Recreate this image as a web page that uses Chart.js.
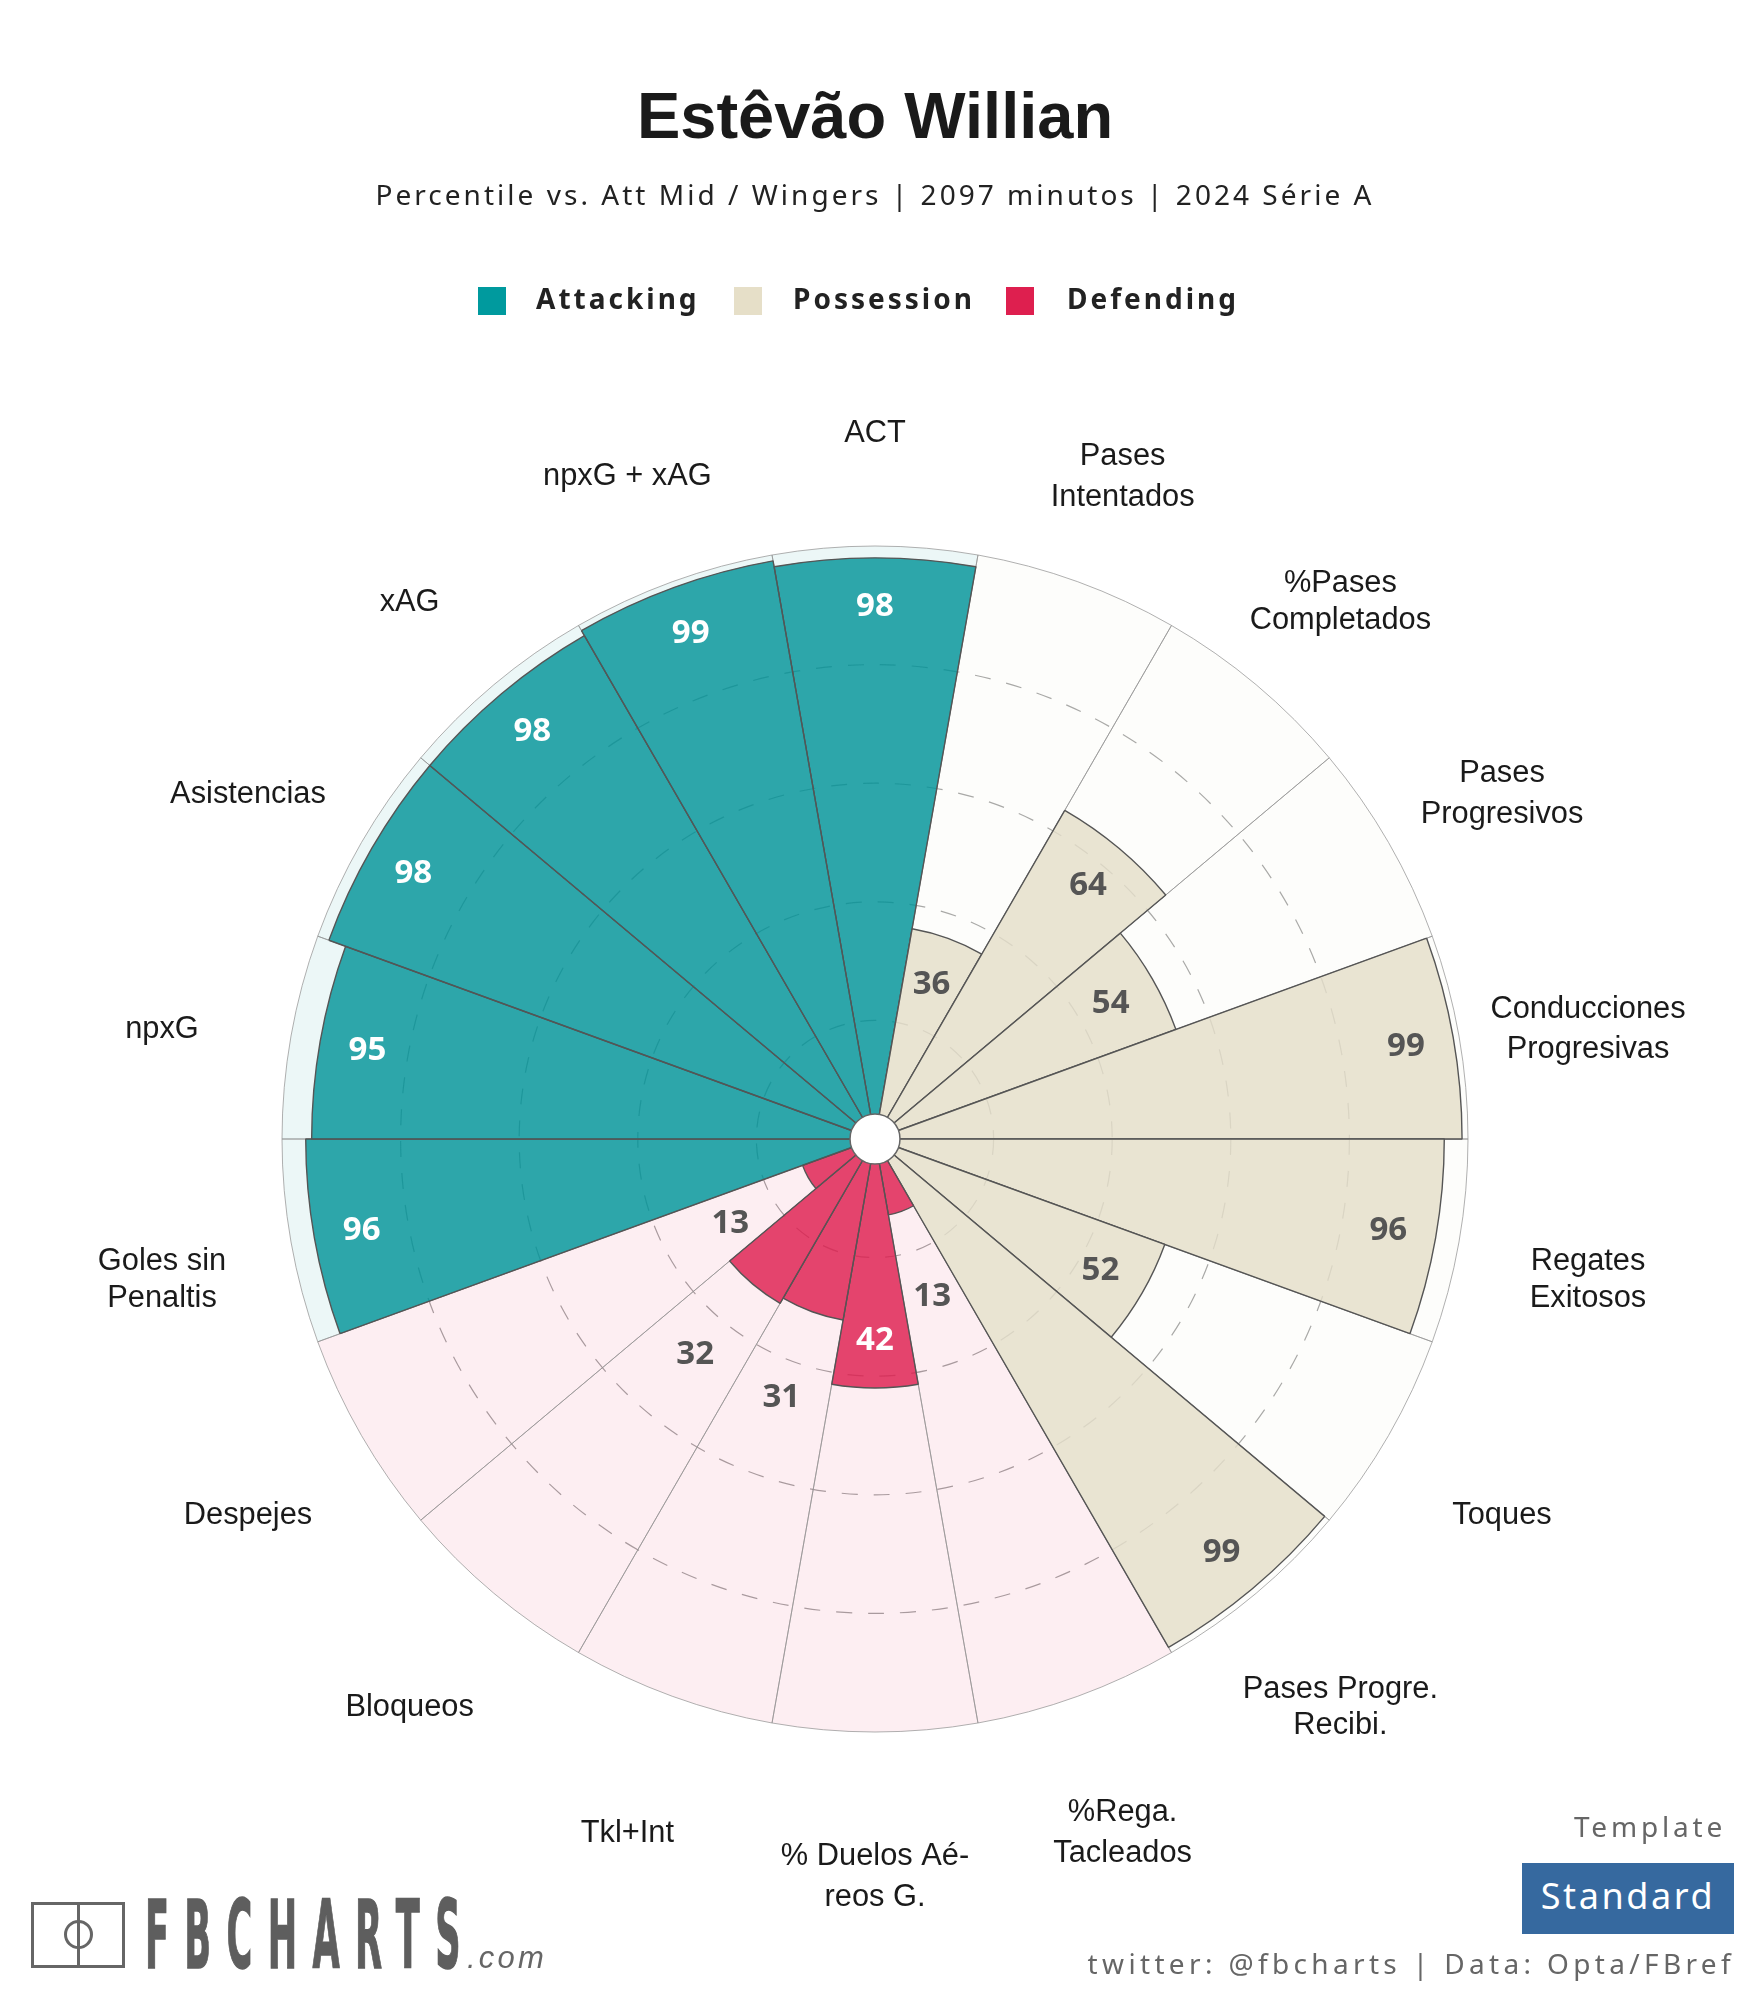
<!DOCTYPE html>
<html lang="es">
<head>
<meta charset="utf-8">
<title>Estêvão Willian</title>
<script src="https://cdn.jsdelivr.net/npm/chart.js@4"></script>
<style>
    html, body { margin: 0; padding: 0; background: #fff; }
    #pagina { position: relative; width: 1750px; height: 2000px; overflow: hidden; }
    #grafico { position: absolute; left: 0; top: 0; }
    .txt { position: absolute; white-space: nowrap; line-height: 1; font-family: "Noto Sans", sans-serif; }
    .quadro { position: absolute; }
</style>
</head>
<body>
<div id="pagina">
    <canvas id="grafico" width="1750" height="2000"></canvas>

    <div class="txt" style="left:0;width:1750px;top:83px;text-align:center;font:bold 65px/1 'Liberation Sans';color:#1a1a1a">Estêvão Willian</div>
    <div class="txt" style="left:0;width:1750px;top:180px;text-align:center;font-size:28px;letter-spacing:3.03px;color:#222">Percentile vs. Att Mid / Wingers | 2097 minutos | 2024 Série A</div>

    <div class="quadro" style="left:478px;top:287px;width:28px;height:28px;background:#009a9e"></div>
    <div class="txt" style="left:536px;top:284px;font-size:28px;font-weight:bold;letter-spacing:3px;color:#222">Attacking</div>
    <div class="quadro" style="left:734px;top:287px;width:28px;height:28px;background:#e6dfc8"></div>
    <div class="txt" style="left:793px;top:284px;font-size:28px;font-weight:bold;letter-spacing:3px;color:#222">Possession</div>
    <div class="quadro" style="left:1006px;top:287px;width:28px;height:28px;background:#de1f4f"></div>
    <div class="txt" style="left:1067px;top:284px;font-size:28px;font-weight:bold;letter-spacing:3px;color:#222">Defending</div>

    <div class="quadro" style="left:31px;top:1902px;width:88px;height:60px;border:3px solid #666"></div>
    <div class="quadro" style="left:77px;top:1902px;width:3px;height:66px;background:#666"></div>
    <div class="quadro" style="left:64px;top:1920px;width:23px;height:23px;border:3px solid #666;border-radius:50%"></div>
    <div class="txt" style="left:145px;top:1888px;font:bold 95px/1 'DejaVu Sans';letter-spacing:41.5px;color:#5e5e5e;-webkit-text-stroke:1.5px #5e5e5e;transform:scaleX(.37);transform-origin:left top">FBCHARTS</div>
    <div class="txt" style="left:467px;top:1942px;font:italic 31px/1 'Liberation Sans';letter-spacing:3.2px;color:#666">.com</div>

    <div class="txt" style="right:24px;top:1812px;font-size:28px;letter-spacing:3.8px;color:#666">Template</div>
    <div class="quadro" style="left:1522px;top:1863px;width:212px;height:71px;background:#36699f"></div>
    <div class="txt" style="left:1522px;width:212px;top:1878px;text-align:center;font-size:36px;letter-spacing:2.6px;color:#fff">Standard</div>
    <div class="txt" style="right:15px;top:1949px;font-size:28px;letter-spacing:4.35px;color:#666">twitter: @fbcharts | Data: Opta/FBref</div>
</div>

<script>
// Dados (sentido horário, começando no topo)
const categorias = [
    'ACT', ['Pases', 'Intentados'], ['%Pases', 'Completados'], ['Pases', 'Progresivos'],
    ['Conducciones', 'Progresivas'], ['Regates', 'Exitosos'], 'Toques', ['Pases Progre.', 'Recibi.'],
    ['%Rega.', 'Tacleados'], ['% Duelos Aé-', 'reos G.'], 'Tkl+Int', 'Bloqueos', 'Despejes',
    ['Goles sin', 'Penaltis'], 'npxG', 'Asistencias', 'xAG', 'npxG + xAG'
];
const percentis = [98, 36, 64, 54, 99, 96, 52, 99, 13, 42, 31, 32, 13, 96, 95, 98, 98, 99];
const grupos = ['A', 'P', 'P', 'P', 'P', 'P', 'P', 'P', 'D', 'D', 'D', 'D', 'D', 'A', 'A', 'A', 'A', 'A'];
const fundo = categorias.map(() => 100);
const marcasEixo = [0, 20, 40, 60, 80, 100];

const cores = { A: '3, 148, 153', P: '228, 222, 201', D: '222, 31, 79' };
const corBarra = grupos.map(g => `rgba(${cores[g]}, 0.82)`);
const corFundo = grupos.map(g => `rgba(${cores[g]}, 0.075)`);

// Espaço entre as duas linhas dos nomes, por fatia
const entrelinha = { 1: 41, 2: 37, 3: 41, 4: 40, 5: 37, 7: 36, 8: 41, 9: 41, 13: 37 };

// Metade de uma fatia, para centralizar os textos
const meioFatia = Math.PI / 18;

const rotulos = {
    id: 'rotulos',
    afterDatasetsDraw(chart) {
        const escala = chart.scales.r;
        const ctx = chart.ctx;
        ctx.save();

        // Círculo branco central
        ctx.beginPath();
        ctx.arc(escala.xCenter, escala.yCenter, 25, 0, Math.PI * 2);
        ctx.fillStyle = '#fff';
        ctx.fill();
        ctx.lineWidth = 1.5;
        ctx.strokeStyle = '#666';
        ctx.stroke();

        ctx.textAlign = 'center';
        ctx.textBaseline = 'middle';

        // Valores
        ctx.font = 'bold 33px "Noto Sans"';
        percentis.forEach((v, i) => {
            const raio = escala.getDistanceFromCenterForValue(v);
            const fora = v <= 32;
            const p = escala.getPointPosition(i, fora ? raio + 90 : raio - 48, meioFatia);
            const claro = !fora && grupos[i] !== 'P';
            ctx.fillStyle = claro ? '#fff' : '#555';
            ctx.fillText(v, p.x, p.y + 1);
        });

        // Nomes das métricas
        ctx.font = '30.8px "Liberation Sans"';
        ctx.fillStyle = '#1a1a1a';
        categorias.forEach((nome, i) => {
            const linhas = [].concat(nome);
            const p = escala.getPointPosition(i, 724, meioFatia);
            const y = escala.yCenter + (p.y - escala.yCenter) * 0.997 + 16;
            linhas.forEach((linha, j) => {
                ctx.fillText(linha, p.x, y + (j - (linhas.length - 1) / 2) * (entrelinha[i] || 39));
            });
        });
        ctx.restore();
    }
};

new Chart(document.getElementById('grafico'), {
    type: 'polarArea',
    data: {
        labels: categorias,
        datasets: [
            { data: percentis, backgroundColor: corBarra, borderColor: '#555', borderWidth: 1.4 },
            { data: fundo, backgroundColor: corFundo, borderColor: 'rgba(150, 150, 150, 0.75)', borderWidth: 1 }
        ]
    },
    options: {
        responsive: false,
        animation: false,
        layout: { padding: { left: 282, right: 282, top: 546, bottom: 268 } },
        plugins: { legend: { display: false }, tooltip: { enabled: false } },
        scales: {
            r: {
                min: 0,
                max: 100,
                startAngle: -10,
                afterBuildTicks: escala => { escala.ticks = marcasEixo.map(value => ({ value })); },
                ticks: { display: false },
                pointLabels: { display: false },
                angleLines: { display: false },
                border: { dash: [16, 16] },
                grid: {
                    lineWidth: 1.2,
                    color: c => c.tick.value === 100 ? 'transparent' : '#a5a5a5'
                }
            }
        }
    },
    plugins: [rotulos]
});
</script>
</body>
</html>
